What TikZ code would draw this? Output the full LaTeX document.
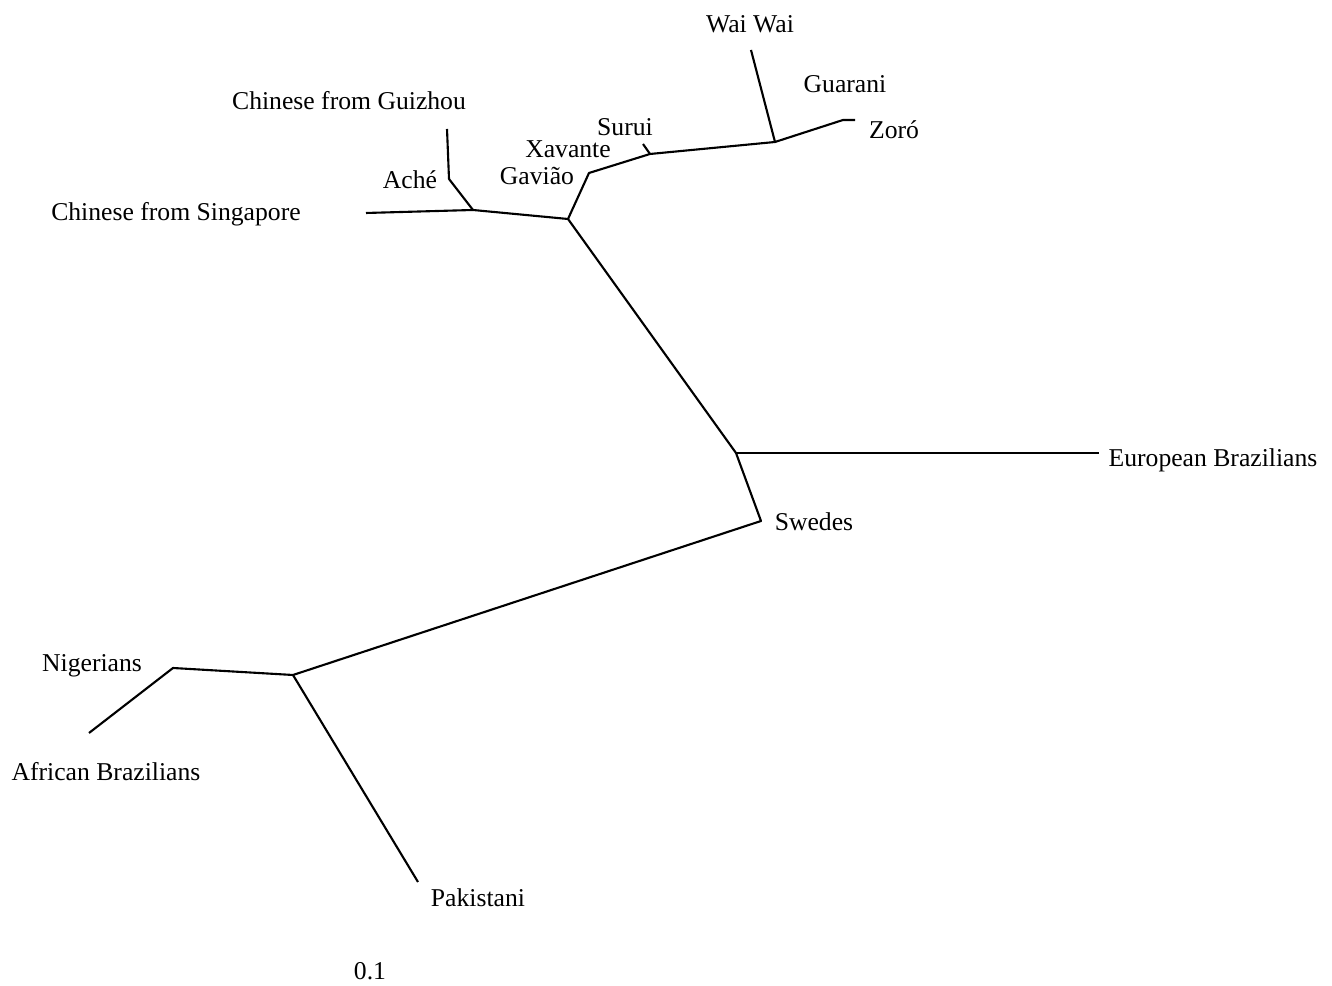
\documentclass[tikz,border=0pt]{standalone}
\usepackage{fontspec}
\setmainfont{Liberation Serif}
\usetikzlibrary{positioning}

\begin{document}
\begin{tikzpicture}[every node/.style={inner sep=0pt,font=\fontsize{14.6}{17}\selectfont},
                    branch/.style={line width=1.2pt,line join=round}]
   \useasboundingbox (0,0) rectangle (26.64,19.72);
   % inner points and leaf ends
   \coordinate (sing) at (7.32,15.46);
   \coordinate (nA)   at (9.46,15.52);
   \coordinate (ache) at (8.98,16.14);
   \coordinate (guiz) at (8.94,17.14);
   \coordinate (nC)   at (11.36,15.34);
   \coordinate (gav)  at (11.78,16.26);
   \coordinate (nE)   at (13.00,16.64);
   \coordinate (sur)  at (12.86,16.84);
   \coordinate (nF)   at (15.50,16.88);
   \coordinate (wai)  at (15.02,18.72);
   \coordinate (zb)   at (16.86,17.32);
   \coordinate (zoro) at (17.10,17.32);
   \coordinate (nG)   at (14.72,10.66);
   \coordinate (eur)  at (21.98,10.66);
   \coordinate (swe)  at (15.22,9.30);
   \coordinate (nH)   at (5.86,6.22);
   \coordinate (nig)  at (3.46,6.36);
   \coordinate (afr)  at (1.78,5.06);
   \coordinate (pak)  at (8.36,2.08);
   % labels
   \node (lwai)  at (15.00,19.24) {Wai Wai};
   \node (lgua)  at (16.90,18.04) {Guarani};
   \node (lzor)  at (17.88,17.12) {Zoró};
   \node (lgui)  at (6.98,17.70)  {Chinese from Guizhou};
   \node (lsur)  at (12.50,17.18) {Surui};
   \node (lxav)  at (11.36,16.74) {Xavante};
   \node (lach)  at (8.20,16.12)  {Aché};
   \node (lgav)  at (10.74,16.20) {Gavião};
   \node (lsin)  at (3.52,15.44)  {Chinese from Singapore};
   \node (leur)  at (24.26,10.52) {European Brazilians};
   \node (lswe)  at (16.28,9.28)  {Swedes};
   \node (lnig)  at (1.84,6.40)   {Nigerians};
   \node (lafr)  at (2.12,4.28)   {African Brazilians};
   \node (lpak)  at (9.56,1.76)   {Pakistani};
   \node (lscale) at (7.40,0.30)  {0.1};
   % branches
   \draw[branch] (sing) -- (nA) -- (nC) -- (nG) -- (swe) -- (nH) -- (nig) -- (afr);
   \draw[branch] (nA) -- (ache) -- (guiz);
   \draw[branch] (nC) -- (gav) -- (nE) -- (nF) -- (zb) -- (zoro);
   \draw[branch] (nE) -- (sur);
   \draw[branch] (nF) -- (wai);
   \draw[branch] (nG) -- (eur);
   \draw[branch] (nH) -- (pak);
\end{tikzpicture}
\end{document}
